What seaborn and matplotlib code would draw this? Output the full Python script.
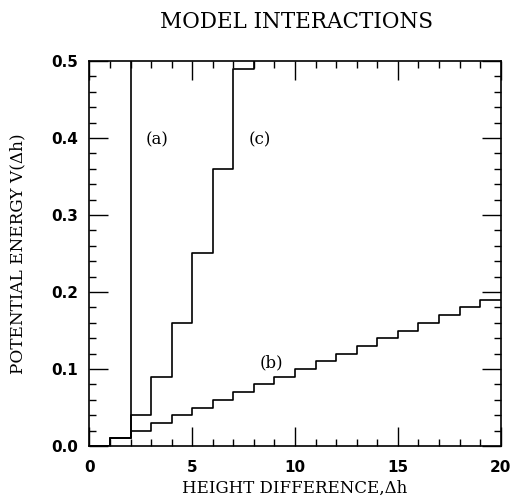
import pandas as pd
import matplotlib
matplotlib.use('Agg')
import matplotlib.pyplot as plt
import seaborn as sns
from matplotlib.ticker import MultipleLocator

# step curves, values hold from each x to the next
x_a = [0, 1, 2, 3]
v_a = [0.0, 0.01, 5.0, 5.0]

x_b = [0, 1, 2, 3, 4, 5, 6, 7, 8, 9, 10, 11, 12, 13, 14, 15, 16, 17, 18, 19, 20]
v_b = [0.0, 0.01, 0.02, 0.03, 0.04, 0.05, 0.06, 0.07, 0.08, 0.09, 0.10,
       0.11, 0.12, 0.13, 0.14, 0.15, 0.16, 0.17, 0.18, 0.19, 0.19]

x_c = [0, 1, 2, 3, 4, 5, 6, 7, 8, 9]
v_c = [0.0, 0.01, 0.04, 0.09, 0.16, 0.25, 0.36, 0.49, 0.64, 0.64]

labels = ['(a)', '(b)', '(c)']
label_x = [3.28, 8.87, 8.3]
label_y = [0.398, 0.108, 0.398]

df = pd.concat([
    pd.DataFrame({'h': x_a, 'V': v_a, 'curve': 'a'}),
    pd.DataFrame({'h': x_b, 'V': v_b, 'curve': 'b'}),
    pd.DataFrame({'h': x_c, 'V': v_c, 'curve': 'c'}),
])

sns.set_style('ticks')
plt.rcParams['font.family'] = ['DejaVu Serif']
plt.rcParams['text.color'] = 'black'
plt.rcParams['axes.labelcolor'] = 'black'
plt.rcParams['xtick.color'] = 'black'
plt.rcParams['ytick.color'] = 'black'

fig = plt.figure(figsize=(5.14, 4.99), dpi=100)
ax = fig.add_axes([0.174, 0.106, 0.8, 0.772])

sns.lineplot(data=df, x='h', y='V', hue='curve', units='curve', estimator=None,
             palette={'a': 'black', 'b': 'black', 'c': 'black'},
             drawstyle='steps-post', linewidth=1.2, legend=False, ax=ax, sort=False)

ax.set_xlim(0, 20)
ax.set_ylim(0, 0.5)
ax.xaxis.set_major_locator(MultipleLocator(5))
ax.xaxis.set_minor_locator(MultipleLocator(1))
ax.yaxis.set_major_locator(MultipleLocator(0.1))
ax.yaxis.set_minor_locator(MultipleLocator(0.02))
ax.yaxis.set_major_formatter(plt.FormatStrFormatter('%.1f'))
ax.tick_params(which='both', direction='in', top=True, right=True, width=1.0, color='black')
ax.tick_params(which='major', length=13.5)
ax.tick_params(axis='x', which='major', pad=10)
ax.tick_params(axis='y', which='major', pad=8)
ax.tick_params(which='minor', length=5)
for lab in ax.get_xticklabels() + ax.get_yticklabels():
    lab.set_family('DejaVu Sans')
    lab.set_fontweight('bold')
    lab.set_fontsize(11)
    lab.set_color('black')
for sp in ax.spines.values():
    sp.set_linewidth(1.2)
    sp.set_color('black')

for t, xx, yy in zip(labels, label_x, label_y):
    ax.text(xx, yy, t, ha='center', va='center', fontsize=12, color='black')

ax.set_xlabel('HEIGHT DIFFERENCE,\u0394h', fontsize=12)
ax.set_ylabel('POTENTIAL ENERGY V(\u0394h)', fontsize=12.2)
ax.xaxis.set_label_coords(0.5, -0.087)
ax.yaxis.set_label_coords(-0.174, 0.5)
ax.xaxis.label.set_va('top')
ax.yaxis.label.set_va('center')
fig.text(0.577, 1 - 22 / 499, 'MODEL INTERACTIONS', ha='center', va='center',
         fontsize=15.5, color='black')

fig.savefig('out.png', dpi=100)
